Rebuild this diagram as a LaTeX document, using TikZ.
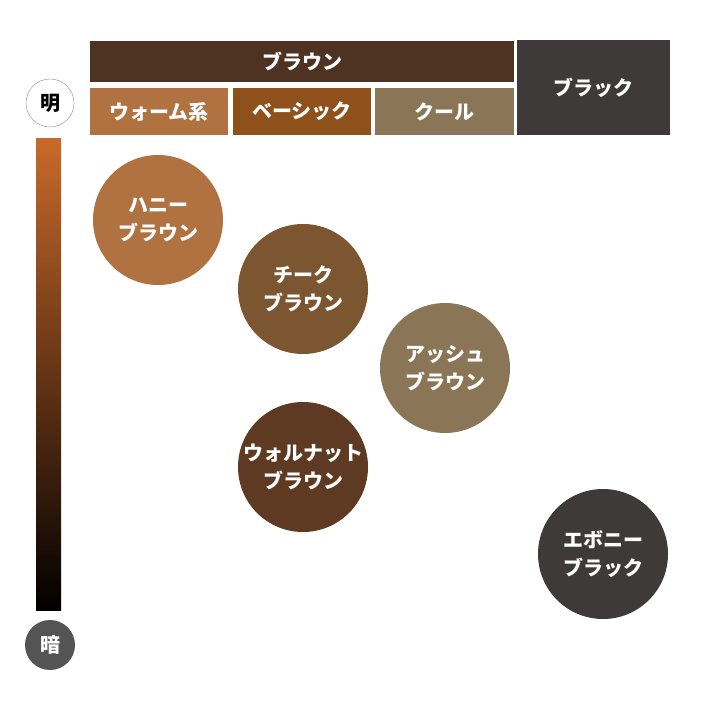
\documentclass[tikz,border=0pt]{standalone}
\usepackage{fontspec}
\setmainfont{Noto Sans CJK JP}
\usepackage{tikz}

\definecolor{barbrown}{HTML}{4E3322}
\definecolor{warm}{HTML}{B07241}
\definecolor{basic}{HTML}{8F511B}
\definecolor{cool}{HTML}{8A7656}
\definecolor{blackish}{HTML}{3E3A39}
\definecolor{teak}{HTML}{7C5630}
\definecolor{walnut}{HTML}{5E3A22}
\definecolor{topcol}{HTML}{C8692A}

\tikzset{
  tone/.style = {text=white, font=\bfseries\fontsize{20}{24}\selectfont, align=center},
  tab/.style = {tone, minimum height=#1pt, inner sep=0pt},
  swatch/.style = {tone, circle, minimum size=130pt, inner sep=0pt, font=\bfseries\fontsize{20}{28}\selectfont},
}

\begin{document}
\begin{tikzpicture}[x=1pt, y=-1pt]
\useasboundingbox (0,0) rectangle (700,708);

% header boxes
\node[tab=41, fill=barbrown, minimum width=424pt] (brown) at (302,61.5) {ブラウン};
\node[tab=95, fill=blackish, minimum width=153pt] (black) at (593.5,87.5) {ブラック};
\node[tab=47, fill=warm, minimum width=138pt] (warm) at (159,111.5) {ウォーム系};
\node[tab=47, fill=basic, minimum width=138pt] (basic) at (302,111.5) {ベーシック};
\node[tab=47, fill=cool, minimum width=139pt] (cool) at (444.5,111.5) {クール};

% brightness scale
\shade[top color=topcol, bottom color=black] (36,139) rectangle (61,610);
\node[circle, draw=black!45, fill=white, minimum size=48pt, inner sep=0pt, font=\bfseries\fontsize{20}{24}\selectfont] (light) at (50,103) {明};
\node[circle, fill=black!67, text=white, minimum size=50pt, inner sep=0pt, font=\bfseries\fontsize{20}{24}\selectfont] (dark) at (50,645) {暗};

% colour swatches
\node[swatch, fill=warm] (honey) at (158,220) {ハニー\\ブラウン};
\node[swatch, fill=teak] (teakb) at (303,289) {チーク\\ブラウン};
\node[swatch, fill=cool] (ash) at (445,368) {アッシュ\\ブラウン};
\node[swatch, fill=walnut] (walnutb) at (303,467) {ウォルナット\\ブラウン};
\node[swatch, fill=blackish] (ebony) at (603,554) {エボニー\\ブラック};
\end{tikzpicture}
\end{document}
